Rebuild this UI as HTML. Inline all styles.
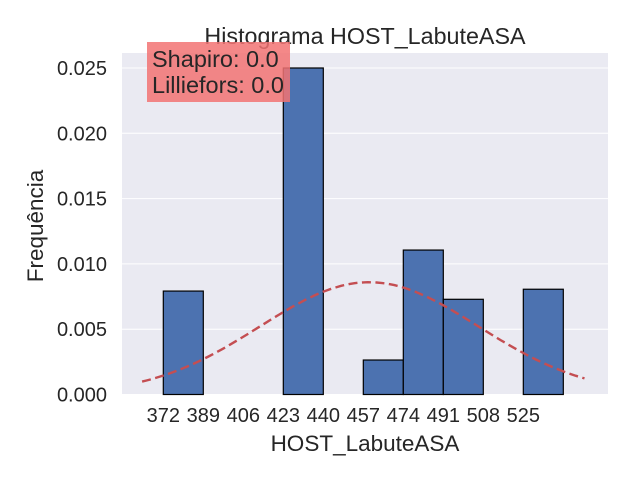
<!DOCTYPE html>
<html><head><meta charset="utf-8"><style>
body{margin:0;background:#fff;font-family:"Liberation Sans","DejaVu Sans",sans-serif}
svg text{font-family:"Liberation Sans","DejaVu Sans",sans-serif;fill:#262626}
</style></head><body>
<svg width="640" height="480" xmlns="http://www.w3.org/2000/svg">
<rect x="122" y="53" width="486" height="342" fill="#eaeaf2"/>
<g id="grid"></g>
<g id="bars"></g>
<path id="curve" fill="none" stroke="#c44e52" stroke-width="2.4" stroke-dasharray="9,4.5"/>
<g id="yt"></g><g id="xt"></g>
<text x="365" y="44" font-size="23.3" text-anchor="middle">Histograma HOST_LabuteASA</text>
<text x="365" y="451" font-size="22.5" text-anchor="middle">HOST_LabuteASA</text>
<text transform="translate(43,226) rotate(-90)" font-size="22.5" text-anchor="middle">Frequência</text>
<rect x="147" y="42" width="143" height="60" fill="#f27373" fill-opacity="0.85"/>
<text x="152" y="67" font-size="23.5">Shapiro: 0.0</text>
<text x="152" y="93" font-size="23.5">Lilliefors: 0.0</text>
</svg>
<script>
const binEdges=[372,389,406,423,440,457,474,491,508,525,542];
const binValues=[0.00792,0,0,0.025,0,0.00264,0.01106,0.00729,0,0.00806];
const yTicks=[0,0.005,0.010,0.015,0.020,0.025];
const yTickLabels=["0.000","0.005","0.010","0.015","0.020","0.025"];
const xTicks=[372,389,406,423,440,457,474,491,508,525];
const fitMean=459.5, fitStd=46.4, curveMin=363, curveMax=551;
const X=v=>163.3+(v-372)*2.353, Y=v=>394.5-v*13060;
const NS="http://www.w3.org/2000/svg";
function mk(t,a,p){const e=document.createElementNS(NS,t);for(const k in a)e.setAttribute(k,a[k]);p.appendChild(e);return e;}
const g=document.getElementById('grid'),b=document.getElementById('bars'),yt=document.getElementById('yt'),xt=document.getElementById('xt');
yTicks.forEach((t,i)=>{const l=mk('line',{x1:122,x2:608,y1:Y(t),y2:Y(t),stroke:'#fff','stroke-width':1},g);


const tx=mk('text',{x:107,y:Y(t)+7,'font-size':20,'text-anchor':'end'},yt);tx.textContent=yTickLabels[i];

});
binValues.forEach((v,i)=>{if(v<=0)return;const r=mk('rect',{x:X(binEdges[i]),y:Y(v),width:X(binEdges[i+1])-X(binEdges[i]),height:Y(0)-Y(v),fill:'#4c72b0',stroke:'#000','stroke-width':1.2},b);

});
xTicks.forEach(t=>{const tx=mk('text',{x:X(t),y:422,'font-size':20,'text-anchor':'middle'},xt);tx.textContent=t;

});
let d='';for(let k=0;k<=100;k++){const v=curveMin+(curveMax-curveMin)*k/100;const p=Math.exp(-0.5*((v-fitMean)/fitStd)**2)/(fitStd*Math.sqrt(2*Math.PI));d+=(k?'L':'M')+X(v).toFixed(1)+','+Y(p).toFixed(1);}
document.getElementById('curve').setAttribute('d',d);
</script>
</body></html>
